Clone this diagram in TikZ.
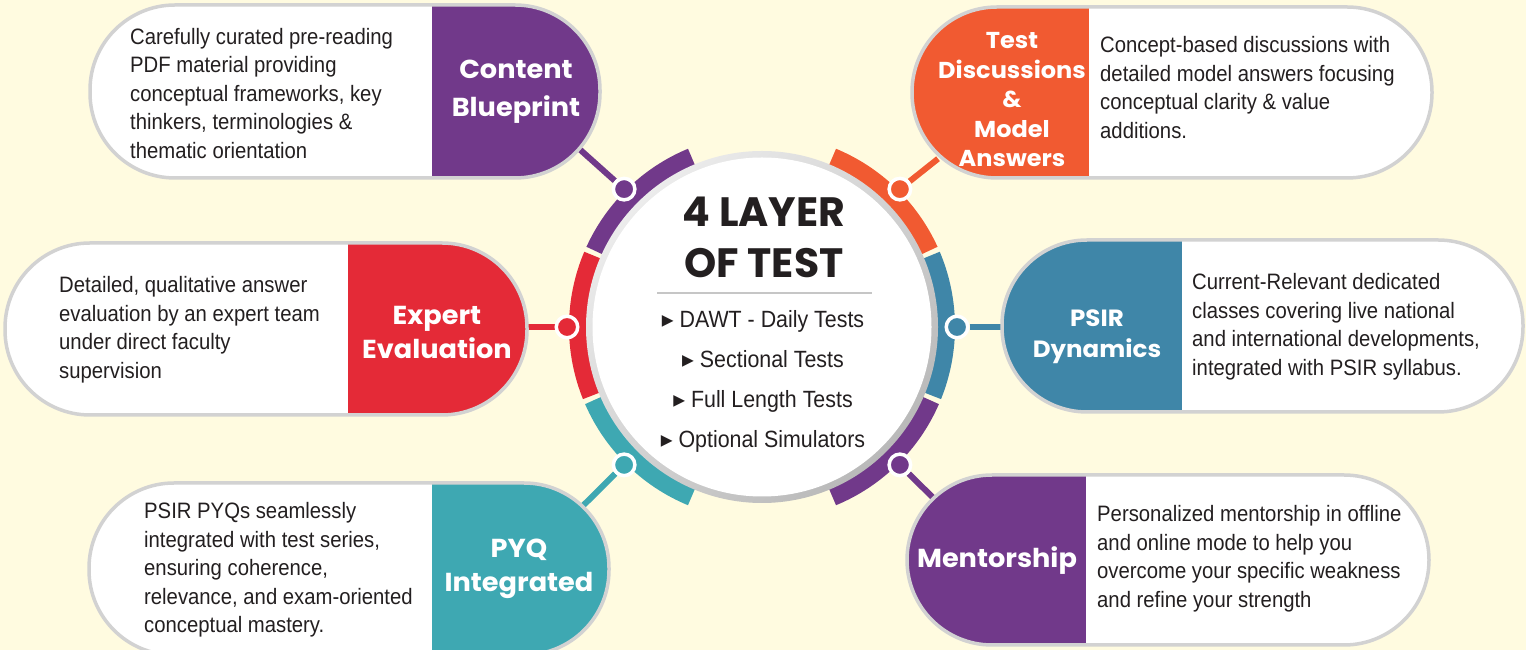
\documentclass[tikz,border=0pt]{standalone}
\usepackage{fontspec}
\setmainfont{Liberation Sans}[FakeStretch=0.91]
\newfontfamily\headfont{Poppins}
\newfontfamily\titlefont{Poppins}[FakeStretch=1.045]
\newfontfamily\symfont{DejaVu Sans}
\usepackage{tikz}

\definecolor{cream}{HTML}{FFFBE0}
\definecolor{cbpurple}{HTML}{71398A}
\definecolor{tdorange}{HTML}{F15A31}
\definecolor{eered}{HTML}{E42A37}
\definecolor{pdblue}{HTML}{3F86A8}
\definecolor{pyqteal}{HTML}{3EA8B2}
\definecolor{ink}{HTML}{231F20}
\definecolor{rimgray}{HTML}{D2D2D2}

\pgfdeclarelayer{bg}
\pgfdeclarelayer{links}
\pgfsetlayers{bg,links,main}

\newcommand{\pillcard}[7]{%
	\fill[white,rounded corners=85] (#1,#2) rectangle (#3,#4);
	\begin{scope}
		\clip[rounded corners=85] (#1,#2) rectangle (#3,#4);
		\fill[#7] (#5,#2) rectangle (#6,#4);
	\end{scope}
	\draw[rimgray,line width=3.5,rounded corners=85] (#1,#2) rectangle (#3,#4);}

\begin{document}
\begin{tikzpicture}[x=1pt,y=1pt,
		head/.style={font=\titlefont\bfseries\fontsize{26}{38}\selectfont,text=white,align=center,anchor=base,inner sep=0},
		blurb/.style={font=\fontsize{22.3}{28.5}\selectfont,text=ink,align=left,anchor=base west,inner sep=0},
		link/.style={line width=6},
		dot/.style={circle,draw=white,line width=3.5,minimum size=21.5,inner sep=0},
		band/.style={line width=33}]
	\useasboundingbox (0,0) rectangle (1526,650);
	\clip (0,0) rectangle (1526,650);
	\begin{pgfonlayer}{bg}
		\fill[cream] (0,0) rectangle (1526,650);
	\end{pgfonlayer}

	\pillcard{90}{472}{600}{645}{432}{600}{cbpurple}
	\pillcard{912}{472}{1432}{643}{912}{1089}{tdorange}
	\pillcard{5}{235}{527}{407}{348}{527}{eered}
	\pillcard{1002}{238}{1523}{410}{1002}{1182}{pdblue}
	\pillcard{89}{-5}{609}{167}{432}{609}{pyqteal}
	\pillcard{907}{5}{1429}{175}{907}{1086}{cbpurple}

	% multi-line nodes sit on the baseline of their last line
	\node[head] (tcb) at (516,533) {Content\\Blueprint};
	\node[head,font=\titlefont\bfseries\fontsize{23}{29.5}\selectfont] (ttd) at (1012,483) {Test\\Discussions\\\&\\Model\\Answers};
	\node[head,font=\titlefont\bfseries\fontsize{26}{34}\selectfont] (tee) at (437,291) {Expert\\Evaluation};
	\node[head,font=\titlefont\bfseries\fontsize{23.5}{31}\selectfont] (tpd) at (1097,292) {PSIR\\Dynamics};
	\node[head,font=\titlefont\bfseries\fontsize{26}{34}\selectfont] (tpyq) at (519,58) {PYQ\\Integrated};
	\node[head] (tm) at (997,82) {Mentorship};

	\node[blurb] (bcb) at (130,491.7) {Carefully curated pre-reading\\PDF material providing\\conceptual frameworks, key\\thinkers, terminologies \&\\thematic orientation};
	\node[blurb] (btd) at (1100,511.5) {Concept-based discussions with\\detailed model answers focusing\\conceptual clarity \& value\\additions.};
	\node[blurb] (bee) at (59,271.5) {Detailed, qualitative answer\\evaluation by an expert team\\under direct faculty\\supervision};
	\node[blurb] (bpd) at (1192,274.5) {Current-Relevant dedicated\\classes covering live national\\and international developments,\\integrated with PSIR syllabus.};
	\node[blurb] (bpyq) at (144,17) {PSIR PYQs seamlessly\\integrated with test series,\\ensuring coherence,\\relevance, and exam-oriented\\conceptual mastery.};
	\node[blurb] (bm) at (1097,42.5) {Personalized mentorship in offline\\and online mode to help you\\overcome your specific weakness\\and refine your strength};

	\coordinate (hub) at (762,323);
	\foreach \a/\b/\c in {24.5/67.5/tdorange,112.5/155.5/cbpurple,157/202/eered,203.5/247.5/pyqteal,292.5/336.5/cbpurple,-22/23/pdblue}
		\draw[band,\c] ([shift={(\a:176.5)}]hub) arc[start angle=\a,end angle=\b,radius=176.5];
	\shade[top color=gray!15,bottom color=gray!55,shading angle=45] (hub) circle[radius=176];
	\fill[white] (hub) circle[radius=169.5];

	\foreach \ang/\col/\nm in {135/cbpurple/dcb,45/tdorange/dtd,180/eered/dee,0/pdblue/dpd,225/pyqteal/dpyq,315/cbpurple/dm}
		\node[dot,fill=\col] (\nm) at ([shift={(\ang:195)}]hub) {};

	\begin{pgfonlayer}{links}
		\draw[link,cbpurple] (dcb) -- (tcb);
		\draw[link,tdorange] (dtd) -- (ttd);
		\draw[link,eered] (dee) -- (dee -| tee);
		\draw[link,pdblue] (dpd) -- (dpd -| tpd);
		\draw[link,pyqteal] (dpyq) -- (tpyq);
		\draw[link,cbpurple] (dm) -- (tm);
	\end{pgfonlayer}

	\node[font=\headfont\bfseries\fontsize{41}{51}\selectfont,text=ink,align=center,anchor=base,inner sep=0] (ttl) at (764,372) {4 LAYER\\OF TEST};
	\draw[gray!45,line width=1.5] (657,357) -- (872,357);
	\node[font=\fontsize{23.5}{40}\selectfont,text=ink,align=center,anchor=base,inner sep=0] (tests) at (763,202)
		{{\symfont ▸}\ DAWT - Daily Tests\\{\symfont ▸}\ Sectional Tests\\{\symfont ▸}\ Full Length Tests\\{\symfont ▸}\ Optional Simulators};
\end{tikzpicture}
\end{document}
